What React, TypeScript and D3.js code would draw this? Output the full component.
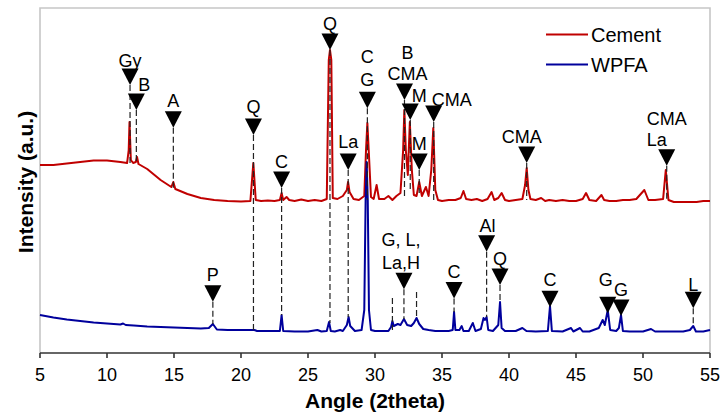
import React from "react";
import * as d3 from "d3";

// ---------- DATA (angle 2θ, intensity a.u.) ----------
const cementData: [number, number][] = [
  [5.0,188],[6.0,188],[7.0,189.5],[8.0,191],[9.0,192.5],[10.0,192.5],[11.0,191],[11.5,190],[11.62,203],[11.68,231],[11.78,193],[11.95,190],[12.15,191],[12.24,196],[12.35,189],[13.0,184],[14.0,173],[14.8,166],[14.95,171],[15.1,164],[16.0,159],[17.0,155],[18.0,153],[19.0,152],[20.0,151.5],[20.7,152],[20.92,190],[21.1,153],[21.5,152],[22.0,152.5],[22.5,152],[22.9,153],[23.03,160],[23.15,153],[23.4,156],[23.6,153],[24.0,152],[24.5,153.5],[25.0,152],[25.5,153],[26.0,152],[26.4,154],[26.55,293],[26.64,303],[26.74,293],[26.85,155],[27.2,154],[27.6,157],[27.9,163],[27.99,171],[28.1,161],[28.4,154],[28.8,153],[29.2,157],[29.33,203],[29.43,230],[29.53,203],[29.7,156],[29.9,154],[30.12,168],[30.3,154],[30.7,154],[31.0,157],[31.3,153],[31.6,157],[31.9,160],[32.1,203],[32.19,243],[32.3,203],[32.45,178],[32.6,231],[32.75,183],[32.9,158],[33.1,157],[33.3,171],[33.5,157],[33.8,166],[34.0,157],[34.2,183],[34.35,225],[34.5,163],[34.7,153],[35.0,152],[35.5,153],[36.0,153],[36.4,155],[36.6,162],[36.8,154],[37.2,153],[37.6,154],[38.0,152],[38.4,154],[38.7,161],[38.9,153],[39.2,155],[39.45,160],[39.7,153],[40.0,152],[40.5,153],[41.0,154],[41.2,168],[41.32,185],[41.45,163],[41.6,154],[42.0,153],[42.4,155],[42.7,152],[43.0,153],[43.5,152],[44.0,153],[44.5,152],[45.0,152],[45.5,154],[45.75,160],[46.0,153],[46.5,152],[46.9,158],[47.1,153],[47.5,152],[48.0,152],[48.5,153],[49.0,153],[49.5,154],[50.1,163],[50.4,153],[50.9,153],[51.5,154],[51.7,183],[51.9,153],[52.3,151],[53.0,151],[53.5,151],[54.0,151],[54.5,152],[55.0,152]
];

const wpfaData: [number, number][] = [
  [5.0,38],[6.0,35.5],[7.0,33.5],[8.0,32],[9.0,30.5],[10.0,29.5],[11.0,28.5],[11.2,29.5],[11.4,28],[12.0,27.5],[13.0,26.5],[14.0,26],[15.0,25.5],[16.0,25],[17.0,24.5],[17.6,25],[17.9,29],[18.2,23.5],[19.0,23],[20.0,23],[21.0,23],[21.2,22],[22.0,22],[22.9,22],[23.03,38],[23.15,22],[24.0,21.5],[25.0,21.5],[25.7,23],[26.0,21.5],[26.4,22],[26.57,31],[26.7,22],[27.0,21.5],[27.4,23],[27.6,22],[27.9,28],[28.03,36],[28.15,27],[28.5,22],[29.0,23],[29.2,43],[29.3,153],[29.38,191],[29.46,153],[29.55,43],[29.7,23],[30.0,22],[30.5,22],[31.0,22],[31.2,26],[31.3,32],[31.4,27],[31.7,29],[31.9,28],[32.16,34],[32.4,28],[32.7,27],[32.9,30],[33.1,35],[33.3,29],[33.6,24],[34.0,23],[34.5,22],[35.0,22],[35.5,22],[35.8,23],[35.9,41],[36.0,23],[36.3,23],[36.47,27],[36.6,22],[37.0,22],[37.3,30],[37.5,22],[37.9,24],[38.1,35],[38.2,33],[38.33,36],[38.45,23],[38.8,22],[39.2,28],[39.33,51],[39.45,25],[39.7,22],[40.5,22],[41.0,25],[41.3,22],[42.0,21.5],[42.9,22],[43.06,47],[43.2,22],[44.0,21.5],[44.63,25],[44.8,21.5],[45.3,25],[45.5,21.5],[46.0,21.5],[46.7,25],[46.99,33],[47.15,28],[47.37,43],[47.55,23],[48.0,22],[48.2,25],[48.36,38],[48.5,22],[49.0,21.5],[50.0,21.5],[50.6,24],[50.9,21.5],[52.0,21.5],[53.0,21.5],[53.5,23],[53.75,27],[53.95,21.5],[54.5,21.5],[55.0,23]
];

const xTicks = [5, 10, 15, 20, 25, 30, 35, 40, 45, 50, 55];
const seriesNames = ["Cement", "WPFA"];
const seriesColors = ["#c00000", "#00009c"];

// Phase markers: angle, label lines, intensity at triangle tip, intensity where dashed line ends
type Ann = { angle: number; lines: string[]; tip: number; dashTo: number; dx?: number; dy?: number; anchor?: "middle" | "start"; lh?: number };
const annotations: Ann[] = [
  { angle: 11.72, lines: ["Gy"], tip: 268, dashTo: 190, dy: 2 },
  { angle: 12.19, lines: ["B"], tip: 243, dashTo: 190, dx: 8, dy: 1.5 },
  { angle: 14.95, lines: ["A"], tip: 225.3, dashTo: 165 },
  { angle: 20.93, lines: ["Q"], tip: 218, dashTo: 23, dy: -2 },
  { angle: 23.03, lines: ["C"], tip: 165, dashTo: 38 },
  { angle: 26.64, lines: ["Q"], tip: 303, dashTo: 30 },
  { angle: 28.0, lines: ["La"], tip: 183, dashTo: 36, dy: -2 },
  { angle: 29.43, lines: ["C", "G"], tip: 244.7, dashTo: 153, dy: -2, lh: 22.7 },
  { angle: 32.2, lines: ["B", "CMA"], tip: 253, dashTo: 155, dx: 3, lh: 21 },
  { angle: 32.63, lines: ["M"], tip: 233, dashTo: 163, dx: 9, dy: 2 },
  { angle: 33.3, lines: ["M"], tip: 183, dashTo: 160 },
  { angle: 34.38, lines: ["CMA"], tip: 231, dashTo: 153, dx: 18, dy: 4 },
  { angle: 41.32, lines: ["CMA"], tip: 190, dashTo: 153, dx: -5 },
  { angle: 51.77, lines: ["CMA", "La"], tip: 187.3, dashTo: 153, dx: -20, dy: 1, anchor: "start", lh: 21.7 },
  { angle: 17.9, lines: ["P"], tip: 51.3, dashTo: 29 },
  { angle: 32.16, lines: ["G, L,", "La,H"], tip: 63.7, dashTo: 34, dx: -3, lh: 23.3 },
  { angle: 35.9, lines: ["C"], tip: 54.5, dashTo: 41 },
  { angle: 38.33, lines: ["Al"], tip: 101.3, dashTo: 36, dx: 1, dy: 1 },
  { angle: 39.33, lines: ["Q"], tip: 68, dashTo: 51 },
  { angle: 43.06, lines: ["C"], tip: 45.7, dashTo: 45.7, dy: -1 },
  { angle: 47.37, lines: ["G"], tip: 39.7, dashTo: 39.7, dx: -2, dy: -6.5 },
  { angle: 48.36, lines: ["G"], tip: 37, dashTo: 37 },
  { angle: 53.75, lines: ["L"], tip: 44.7, dashTo: 27, dy: 3 },
];
// dashed guide lines without marker: angle, from intensity, to intensity
const extraDashes: [number, number, number][] = [
  [31.3, 55, 23],
  [33.1, 61, 35],
];

export default function App() {
  const left = 40, right = 710, top = 8, bottom = 353;
  const x = d3.scaleLinear().domain([5, 55]).range([left, right]);
  const y = d3.scaleLinear().domain([0, 345]).range([bottom, top]);
  const line = d3.line<[number, number]>().x(d => x(d[0])).y(d => y(d[1]));
  const font = "'Liberation Sans', Arial, sans-serif";
  const triW = 17, triH = 16.5;

  return (
    <svg width={720} height={419} style={{ display: "block", position: "absolute", left: 0, top: 0 }} fontFamily={font}>
      <rect x={0} y={0} width={720} height={419} fill="#fff" />
      {/* frame */}
      <path d={`M${left},${bottom} V${top} H${right} V${bottom}`} fill="none" stroke="#c6c6c6" strokeWidth={1.6} />
      {/* series */}
      <path d={line(cementData) || ""} fill="none" stroke={seriesColors[0]} strokeWidth={2} strokeLinejoin="round" />
      <path d={line(wpfaData) || ""} fill="none" stroke={seriesColors[1]} strokeWidth={2} strokeLinejoin="round" />
      {/* dashed guides */}
      {annotations.map((a, i) => (
        <line key={"d" + i} x1={x(a.angle)} x2={x(a.angle)} y1={y(a.tip)} y2={y(a.dashTo)} stroke="#222" strokeWidth={1.2} strokeDasharray="6,3" />
      ))}
      {extraDashes.map((e, i) => (
        <line key={"e" + i} x1={x(e[0])} x2={x(e[0])} y1={y(e[1])} y2={y(e[2])} stroke="#222" strokeWidth={1.2} strokeDasharray="6,3" />
      ))}
      {/* markers */}
      {annotations.map((a, i) => {
        const cx = x(a.angle), ty = y(a.tip);
        const triTop = ty - triH;
        const base = triTop - 4 + (a.dy || 0);
        const lh = a.lh || 22;
        const n = a.lines.length;
        return (
          <g key={"m" + i}>
            <path d={`M${cx - triW / 2},${triTop} L${cx + triW / 2},${triTop} L${cx},${ty} Z`} fill="#000" />
            {a.lines.map((t, j) => (
              <text key={j} x={cx + (a.dx || 0)} y={base - (n - 1 - j) * lh} fontSize={18} textAnchor={a.anchor || "middle"} fill="#000">{t}</text>
            ))}
          </g>
        );
      })}
      {/* x axis */}
      <line x1={left} x2={right} y1={bottom} y2={bottom} stroke="#333" strokeWidth={1.6} />
      {xTicks.map(t => (
        <g key={t}>
          <line x1={x(t)} x2={x(t)} y1={bottom} y2={bottom + 5} stroke="#333" strokeWidth={1.6} />
          <text x={x(t)} y={381} fontSize={18} textAnchor="middle" fill="#000">{t}</text>
        </g>
      ))}
      <text x={375} y={408} fontSize={21} fontWeight="bold" textAnchor="middle" fill="#000">Angle (2theta)</text>
      <text transform="translate(33,182) rotate(-90)" fontSize={21} fontWeight="bold" textAnchor="middle" fill="#000">Intensity (a.u.)</text>
      {/* legend */}
      {seriesNames.map((s, i) => (
        <g key={s}>
          <line x1={546} x2={588} y1={34.5 + i * 30} y2={34.5 + i * 30} stroke={seriesColors[i]} strokeWidth={2} />
          <text x={591} y={41.5 + i * 30} fontSize={20} fill="#000">{s}</text>
        </g>
      ))}
    </svg>
  );
}
